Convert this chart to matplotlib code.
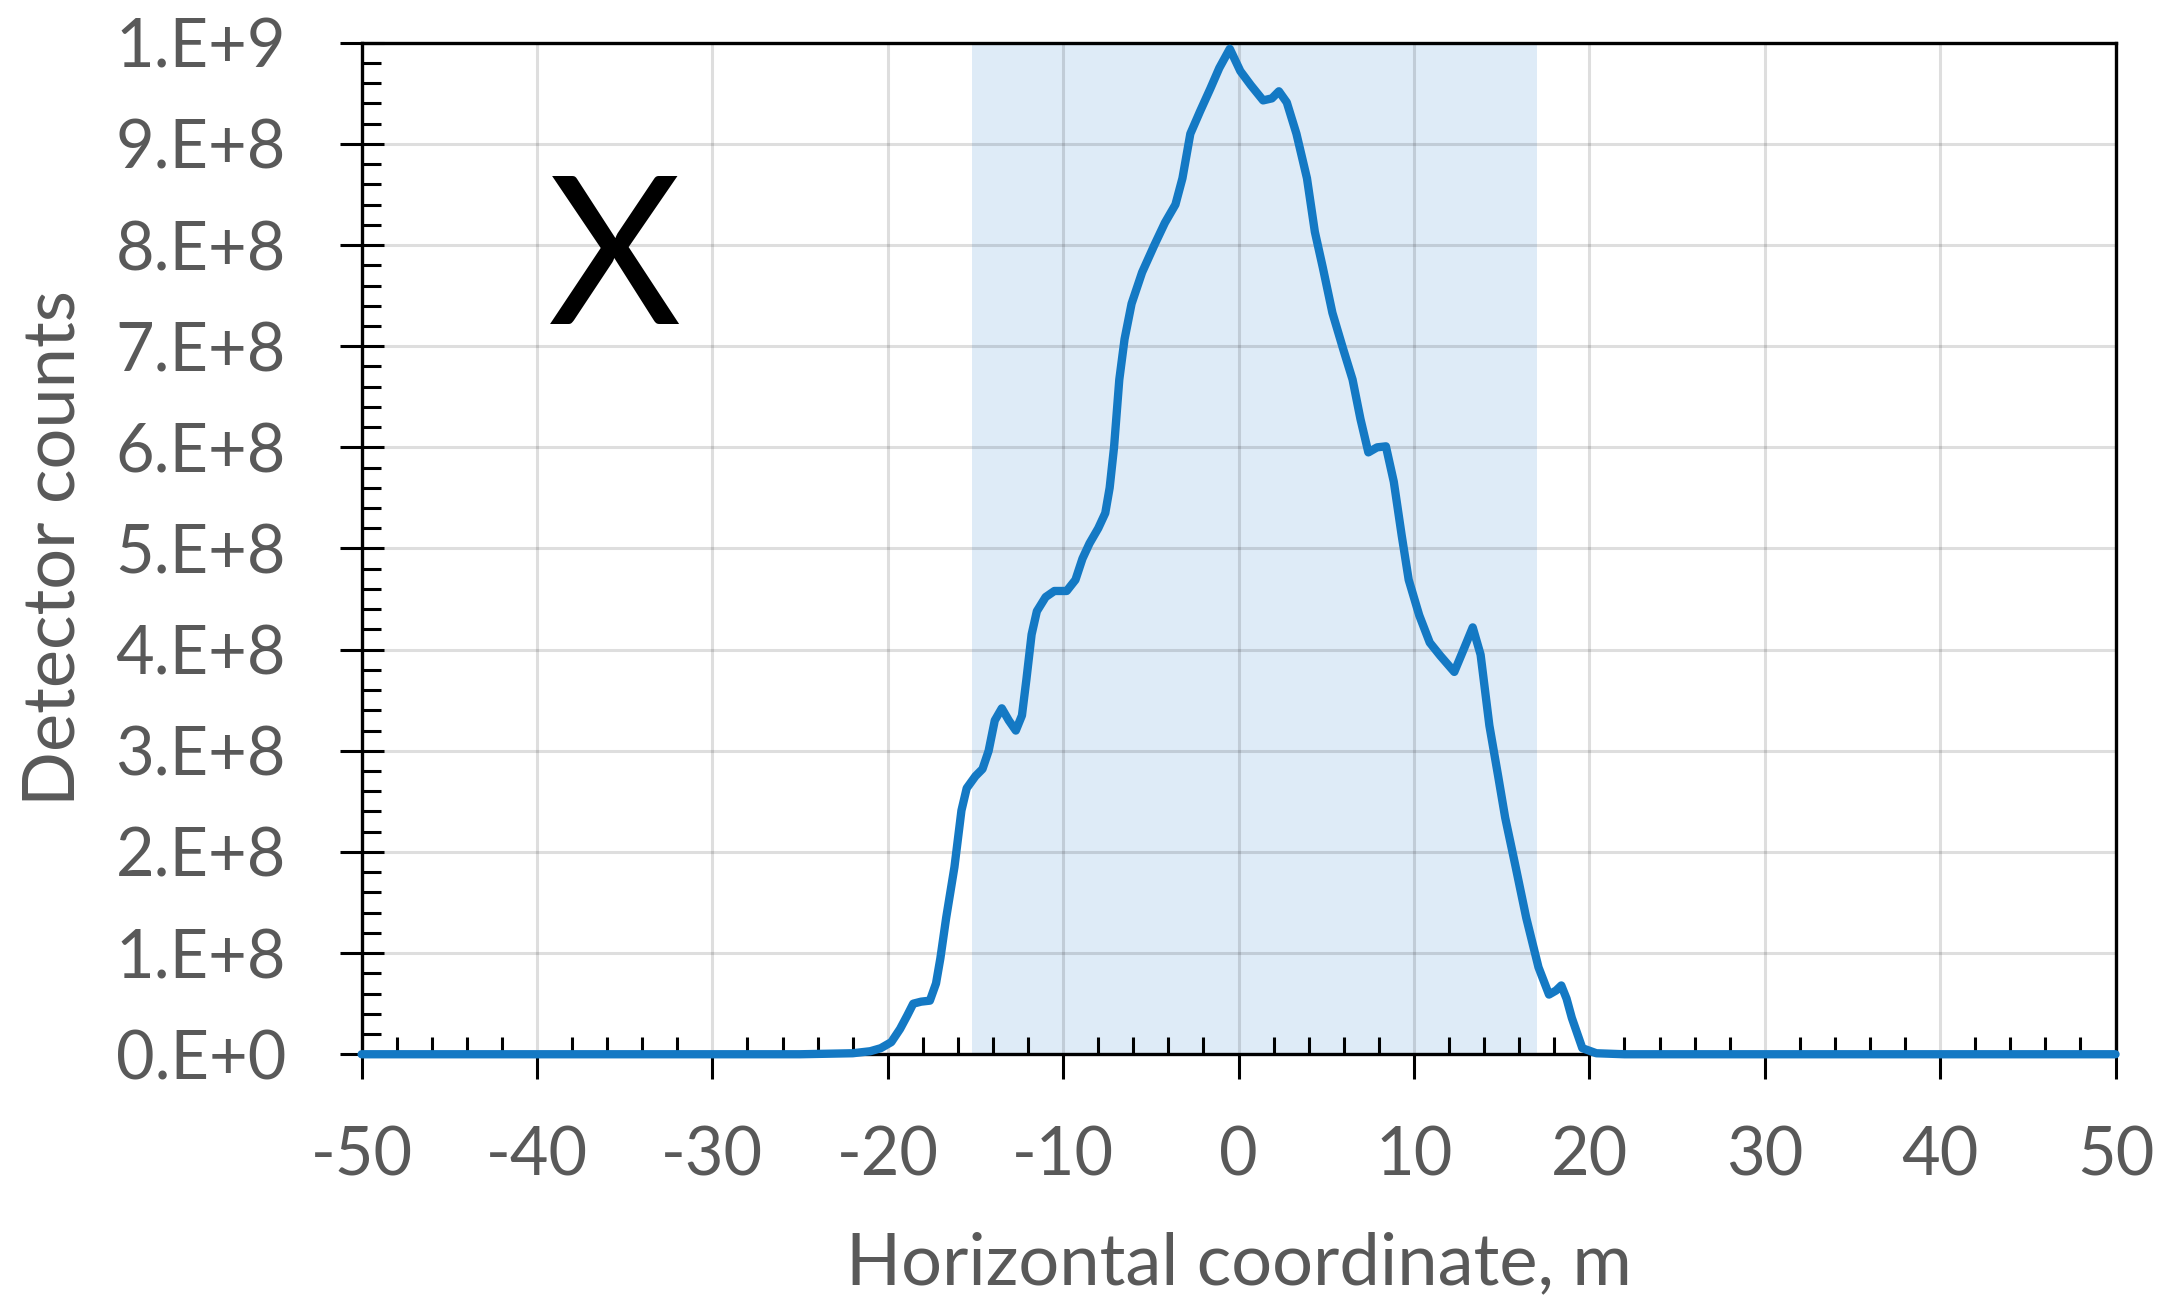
import matplotlib
matplotlib.use("Agg")
import matplotlib.pyplot as plt
from matplotlib.ticker import FixedLocator, MultipleLocator

# horizontal coordinate, m
x = [-50, -25, -22, -21, -20.4, -19.8, -19.3, -18.9, -18.55, -18.1, -17.6,
     -17.25, -17.0, -16.67, -16.2, -15.8, -15.5, -15.0, -14.6, -14.25, -13.9,
     -13.5, -13.1, -12.7, -12.35, -12.1, -11.8, -11.5, -11.0, -10.5, -9.8,
     -9.3, -8.9, -8.5, -8.0, -7.6, -7.35, -7.1, -6.8, -6.5, -6.1, -5.5, -4.8,
     -4.2, -3.6, -3.2, -2.75, -2.2, -1.6, -1.1, -0.5, 0.1, 0.7, 1.4, 1.9, 2.3,
     2.75, 3.3, 3.9, 4.35, 4.8, 5.35, 5.95, 6.5, 6.95, 7.4, 7.9, 8.4, 8.85,
     9.3, 9.7, 10.3, 10.9, 11.5, 12.3, 12.9, 13.35, 13.8, 14.3, 14.8, 15.2,
     15.8, 16.4, 17.1, 17.7, 18.1, 18.4, 18.7, 19.0, 19.6, 20.4, 22, 50]

# detector counts, x 1e8
y = [0, 0, 0.01, 0.03, 0.06, 0.12, 0.25, 0.38, 0.5, 0.52, 0.53,
     0.7, 0.95, 1.35, 1.85, 2.41, 2.63, 2.75, 2.82, 3.0, 3.3,
     3.42, 3.3, 3.2, 3.35, 3.7, 4.15, 4.38, 4.52, 4.58, 4.58,
     4.69, 4.9, 5.05, 5.2, 5.35, 5.6, 6.0, 6.67, 7.07, 7.42, 7.73, 8.0,
     8.22, 8.4, 8.66, 9.1, 9.32, 9.55, 9.75, 9.94, 9.72, 9.58, 9.43, 9.45, 9.52,
     9.41, 9.1, 8.66, 8.13, 7.78, 7.33, 6.98, 6.67, 6.28, 5.95, 6.0, 6.01, 5.66,
     5.13, 4.69, 4.34, 4.07, 3.94, 3.78, 4.03, 4.22, 3.95, 3.25, 2.75, 2.34,
     1.85, 1.35, 0.86, 0.59, 0.63, 0.68, 0.55, 0.36, 0.06, 0.01, 0.0, 0.0]
y = [v * 1e8 for v in y]

zona = (-15.2, 17.0)

xticks = [-50, -40, -30, -20, -10, 0, 10, 20, 30, 40, 50]
yticks = [i * 1e8 for i in range(11)]
ylabels = ["0.E+0", "1.E+8", "2.E+8", "3.E+8", "4.E+8", "5.E+8",
           "6.E+8", "7.E+8", "8.E+8", "9.E+8", "1.E+9"]

plt.rcParams['font.family'] = ['Lato', 'DejaVu Sans']

fig = plt.figure(figsize=(21.64, 13.03), dpi=100)
ax = fig.add_axes([0.1671, 0.1909, 0.8105, 0.7763])

ax.axvspan(zona[0], zona[1], color="#DEEBF7", zorder=0.5, lw=0)
ax.plot(x, y, color="#1479C4", linewidth=6, zorder=3, clip_on=False,
        solid_capstyle="round", solid_joinstyle="round")

ax.set_xlim(-50, 50)
ax.set_ylim(0, 1e9)

ax.xaxis.set_major_locator(FixedLocator(xticks))
ax.xaxis.set_minor_locator(MultipleLocator(2))
ax.yaxis.set_major_locator(FixedLocator(yticks))
ax.yaxis.set_minor_locator(MultipleLocator(2e7))
ax.set_xticklabels([str(t) for t in xticks])
ax.set_yticklabels(ylabels)

ax.grid(True, which="major", color="black", alpha=0.13, linewidth=2.2)

for s in ax.spines.values():
    s.set_linewidth(2.4)
    s.set_color("black")

ax.tick_params(axis="x", which="major", direction="out", length=18, width=2.2,
               pad=33, labelsize=48, labelcolor="#595959")
ax.tick_params(axis="x", which="minor", direction="in", length=12, width=2.2)
ax.tick_params(axis="y", which="major", direction="inout", length=31, width=2.2,
               pad=39, labelsize=48, labelcolor="#595959")
ax.tick_params(axis="y", which="minor", direction="in", length=13.5, width=2.2)

ax.set_xlabel("Horizontal coordinate, m", fontsize=52, color="#595959")
ax.set_ylabel("Detector counts", fontsize=52, color="#595959")
ax.xaxis.set_label_coords(0.5, -0.175)
ax.yaxis.set_label_coords(-0.157, 0.5)

ax.text(-35.55, 7.8e8, "X", fontsize=148, color="black",
        ha="center", va="center")

plt.savefig("out.png", dpi=100)
